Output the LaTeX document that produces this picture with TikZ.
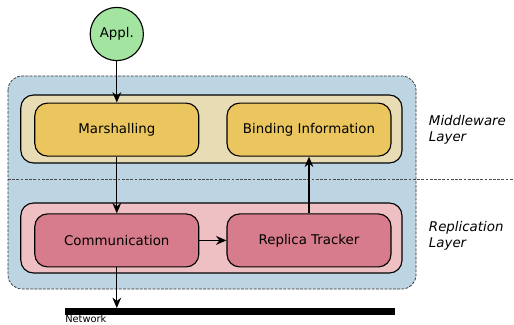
\documentclass[tikz,border=0pt]{standalone}
\usepackage{fontspec}
\setmainfont{DejaVu Sans}
\usepackage{tikz}
\usetikzlibrary{arrows.meta}

\definecolor{layerblue}{HTML}{BDD5E3}
\definecolor{mwback}{HTML}{E8DCB5}
\definecolor{mwbox}{HTML}{EBC65E}
\definecolor{repback}{HTML}{EEC0C4}
\definecolor{repbox}{HTML}{D67C8C}
\definecolor{applgreen}{HTML}{A3E4A0}

\begin{document}
\begin{tikzpicture}[
  comp/.style={draw, rounded corners=9pt, line width=0.8pt, minimum width=4.1cm, minimum height=1.325cm, font=\fontsize{9.5}{11}\selectfont},
  grp/.style={draw, rounded corners=9pt, line width=0.8pt},
  flow/.style={-{Stealth[length=2.6mm, width=2.2mm]}, line width=0.9pt},
  lyr/.style={align=left, anchor=west, font=\fontsize{9.5}{11.5}\selectfont\itshape}
]
\useasboundingbox (0,0) rectangle (12.85,-8.1);

% layers
\draw[fill=layerblue, dashed, dash pattern=on 2pt off 1pt, rounded corners=10pt, line width=0.5pt, draw=black!80] (0.2,-1.9) rectangle (10.4,-7.225);
\draw[dashed, dash pattern=on 2pt off 1pt, line width=0.5pt, draw=black!70] (0.2,-4.475) -- (12.85,-4.475);
\draw[grp, fill=mwback]  (0.52,-2.375) rectangle (10.05,-4.075);
\draw[grp, fill=repback] (0.52,-5.075) rectangle (10.05,-6.825);

\node[draw, circle, fill=applgreen, line width=0.8pt, minimum size=1.33cm, font=\fontsize{9.5}{11}\selectfont] (appl) at (2.92,-0.85) {Appl.};

\node[comp, fill=mwbox]  (marsh) at (2.92,-3.24)  {Marshalling};
\node[comp, fill=mwbox]  (bind)  at (7.725,-3.24) {Binding Information};
\node[comp, fill=repbox] (comm)  at (2.92,-6.01)  {Communication};
\node[comp, fill=repbox] (track) at (7.725,-6.01) {Replica Tracker};

\node[lyr] (mwlbl)  at (10.6,-3.25) {Middleware\\Layer};
\node[lyr] (replbl) at (10.6,-5.9)  {Replication\\Layer};

% network
\coordinate (netl) at (1.625,-7.79);
\coordinate (netr) at (9.875,-7.79);
\coordinate (nettop) at (2.92,-7.7);
\draw[line width=5pt] (netl) -- (netr);
\node[anchor=base west, inner sep=0pt, font=\fontsize{7}{8}\selectfont] (netlbl) at (1.625,-8.06) {Network};

\draw[flow] (appl) -- (marsh);
\draw[flow] (marsh) -- (comm);
\draw[flow] (comm) -- (track);
\draw[flow] (track) -- (bind);
\draw[flow] (comm.south) -- (nettop);
\end{tikzpicture}
\end{document}
